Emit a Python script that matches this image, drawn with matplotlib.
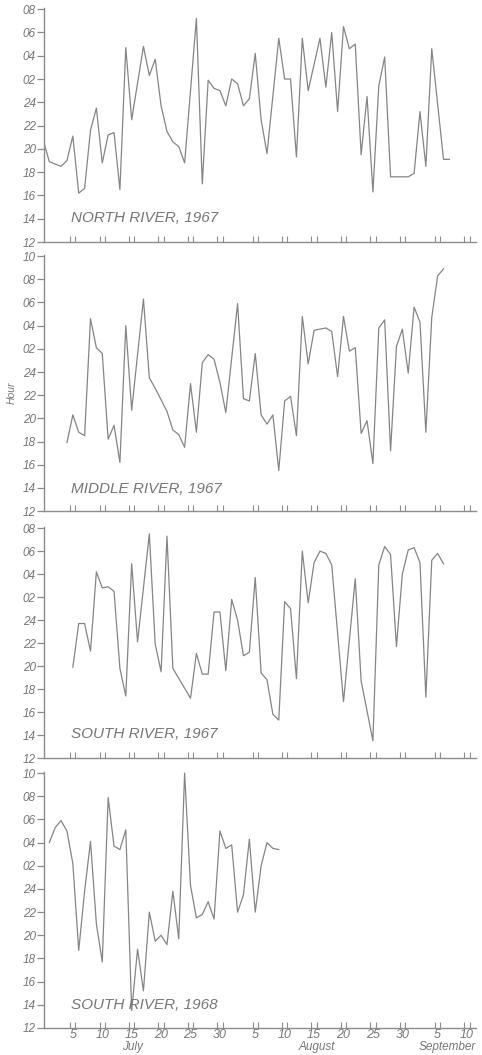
import matplotlib.pyplot as plt

plt.rcParams['font.family'] = ['Liberation Sans', 'DejaVu Sans']
plt.rcParams['font.style'] = 'italic'

# day 0 = 30 June; hours run noon to noon, values past 24 are the next morning
north_days = [0, 1, 3, 4, 5, 6, 7, 8, 9, 10, 11, 12, 13, 14, 15, 17, 18, 19, 20, 21,
              22, 23, 24, 26, 27, 28, 29, 30, 31, 32, 33, 34, 35, 36, 37, 38, 40, 41, 42, 43,
              44, 45, 47, 48, 49, 50, 51, 52, 53, 54, 55, 56, 57, 58, 59, 62, 63, 64, 65, 66,
              68, 69]
north_hours = [20.7, 18.9, 18.5, 19.0, 21.1, 16.2, 16.6, 21.6, 23.5, 18.8,
               21.2, 21.4, 16.5, 28.7, 22.5, 28.8, 26.3, 27.7, 23.7, 21.5,
               20.6, 20.2, 18.8, 31.2, 17.0, 25.9, 25.2, 25.0, 23.7, 26.0,
               25.6, 23.7, 24.3, 28.2, 22.5, 19.6, 29.5, 26.0, 26.0, 19.3,
               29.5, 25.0, 29.5, 25.3, 30.0, 23.2, 30.5, 28.6, 29.0, 19.5,
               24.5, 16.3, 25.4, 27.9, 17.6, 17.6, 17.9, 23.2, 18.5, 28.6,
               19.1, 19.1]

middle_days = [4, 5, 6, 7, 8, 9, 10, 11, 12, 13, 14, 15,
               17, 18, 19, 20, 21, 22, 23, 24, 25, 26, 27, 28, 29, 30, 31,
               33, 34, 35, 36, 37, 38, 39, 40, 41, 42, 43, 44, 45, 46,
               48, 49, 50, 51, 52, 53, 54, 55, 56, 57, 58, 59, 60, 61, 62, 63, 64, 65, 66, 67, 68]
middle_hours = [17.9, 20.3, 18.8, 18.5, 28.6, 26.1, 25.6, 18.2, 19.4, 16.2, 28.0, 20.7,
                30.3, 23.5, 22.6, 21.6, 20.6, 19.0, 18.6, 17.5, 23.0, 18.8, 24.8, 25.5, 25.1, 23.1, 20.5,
                29.9, 21.7, 21.5, 25.6, 20.3, 19.5, 20.3, 15.5, 21.5, 21.9, 18.5, 28.8, 24.7, 27.6,
                27.8, 27.5, 23.6, 28.8, 25.8, 26.1, 18.7, 19.8, 16.1, 27.8, 28.5, 17.2, 26.2, 27.7,
                23.9, 29.6, 28.3, 18.8, 28.7, 32.3, 32.9]

south67_days = [5, 6, 7, 8, 9, 10, 11, 12, 13, 14, 15, 16,
                18, 19, 20, 21, 22,
                25, 26, 27, 28, 29, 30, 31, 32, 33, 34, 35, 36, 37, 38, 39, 40, 41, 42, 43, 44,
                45, 46, 47, 48, 49,
                51, 53, 54,
                56, 57, 58, 59, 60, 61, 62, 63, 64, 65, 66, 67, 68]
south67_hours = [19.9, 23.7, 23.7, 21.3, 28.2, 26.8, 26.9, 26.5, 19.8, 17.4, 28.9, 22.1,
                 31.5, 21.9, 19.5, 31.3, 19.8,
                 17.2, 21.1, 19.3, 19.3, 24.7, 24.7, 19.6, 25.8, 24.0, 20.9, 21.2, 27.7, 19.4,
                 18.8, 15.8, 15.3, 25.6, 25.0, 18.9, 30.0, 25.5, 29.0, 30.0, 29.8, 28.8,
                 16.9, 27.6, 18.7,
                 13.5, 28.8, 30.4, 29.7, 21.7, 28.0, 30.1, 30.3, 29.0, 17.3, 29.2, 29.8, 28.9]

south68_days = list(range(1, 41))
south68_hours = [28.0, 29.3, 29.9, 29.0, 26.2, 18.7, 23.8, 28.1, 21.0, 17.7,
                 31.9, 27.7, 27.4, 29.1, 13.5, 18.8, 15.2, 22.0, 19.5, 20.0,
                 19.2, 23.8, 19.7, 34.0, 24.3, 21.5, 21.8, 22.9, 21.4, 29.0,
                 27.5, 27.8, 22.0, 23.5, 28.3, 22.0, 26.0, 28.0, 27.5, 27.4]

titles = ['NORTH RIVER, 1967', 'MIDDLE RIVER, 1967', 'SOUTH RIVER, 1967', 'SOUTH RIVER, 1968']
tops = [32, 34, 32, 34]

date_days = [5, 10, 15, 20, 25, 30, 36, 41, 46, 51, 56, 61, 67, 72]
date_labels = ['5', '10', '15', '20', '25', '30', '5', '10', '15', '20', '25', '30', '5', '10']
months = ['July', 'August', 'September']
month_days = [15.2, 46.4, 68.6]

series = [(north_days, north_hours), (middle_days, middle_hours),
          (south67_days, south67_hours), (south68_days, south68_hours)]

# axes boxes in figure fractions
boxes = [(0.0913, 0.7706, 0.896, 0.2218),
         (0.0913, 0.5156, 0.896, 0.2427),
         (0.0913, 0.2815, 0.896, 0.2190),
         (0.0913, 0.0256, 0.896, 0.2427)]
title_y = [0.103, 0.086, 0.104, 0.09]

ink = '#777777'
fig = plt.figure(figsize=(4.82, 10.55), dpi=100)

for i, (days, hours) in enumerate(series):
    ax = fig.add_axes(boxes[i])
    ax.plot(days, hours, color='#858585', lw=0.9)
    ax.set_xlim(0.1, 73.5)
    ax.set_ylim(12, tops[i] + 0.1)

    for s in ['top', 'right']:
        ax.spines[s].set_visible(False)
    for s in ['left', 'bottom']:
        ax.spines[s].set_color('#8c8c8c')
        ax.spines[s].set_linewidth(1.0)

    yt = list(range(12, tops[i] + 1, 2))
    ax.set_yticks(yt)
    ax.set_yticklabels(['%02d' % (h if h <= 24 else h - 24) for h in yt])
    ax.tick_params(axis='y', direction='out', length=5, width=0.9, color='#8c8c8c',
                   labelsize=8.5, labelcolor=ink, pad=1)

    ax.set_xticks(date_days)
    pairs = [d + o for d in date_days for o in (-0.45, 0.45)]
    ax.set_xticks(pairs, minor=True)
    ax.tick_params(axis='x', which='major', length=0, labelsize=9, labelcolor=ink, pad=1)
    ax.tick_params(axis='x', which='minor', direction='in', length=4, width=0.8, color='#8c8c8c')
    if i == 3:
        ax.set_xticklabels(date_labels)
        for m, md in zip(months, month_days):
            ax.text(md, -0.075, m, transform=ax.get_xaxis_transform(), ha='center', va='center',
                    fontsize=8.5, color=ink)
    else:
        ax.set_xticklabels([])

    ax.text(0.0625, title_y[i], titles[i], transform=ax.transAxes, ha='left', va='center',
            fontsize=11, color=ink)

fig.text(0.025, 0.628, 'Hour', rotation=90, ha='center', va='center', fontsize=7.5, color=ink)

fig.savefig('out.png', dpi=100)
